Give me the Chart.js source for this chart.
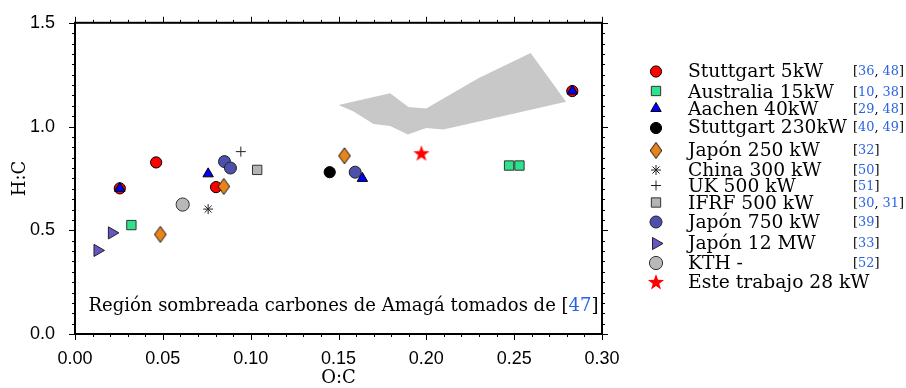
<!DOCTYPE html>
<html>
<head>
<meta charset="utf-8">
<script src="https://cdn.jsdelivr.net/npm/chart.js@4.4.1/dist/chart.umd.min.js"></script>
<style>
html,body{margin:0;padding:0;background:#fff;}
#wrap{width:906px;height:388px;}
</style>
</head>
<body>
<div id="wrap"><canvas id="c" width="906" height="388"></canvas></div>
<script>
// ---------------- DATA ----------------
const xTickLabels = ['0.00', '0.05', '0.10', '0.15', '0.20', '0.25', '0.30'];
const yTickLabels = ['0.0', '0.5', '1.0', '1.5'];

const seriesNames = ['Stuttgart 5kW', 'Australia 15kW', 'Aachen 40kW', 'Stuttgart 230kW',
  'Japón 250 kW', 'China 300 kW', 'UK 500 kW', 'IFRF 500 kW', 'Japón 750 kW',
  'Japón 12 MW', 'KTH -', 'Este trabajo 28 kW'];
const seriesRefs = [['36', '48'], ['10', '38'], ['29', '48'], ['40', '49'], ['32'], ['50'],
  ['51'], ['30', '31'], ['39'], ['33'], ['52'], []];

const stuttgart5_OC = [0.0255, 0.0462, 0.0803, 0.2831];
const stuttgart5_HC = [0.702, 0.827, 0.708, 1.171];
const australia15_OC = [0.0321, 0.2471, 0.2530];
const australia15_HC = [0.525, 0.812, 0.812];
const aachen40_OC = [0.0255, 0.0758, 0.1636, 0.2831];
const aachen40_HC = [0.702, 0.772, 0.750, 1.171];
const stuttgart230_OC = [0.1450];
const stuttgart230_HC = [0.780];
const japon250_OC = [0.0486, 0.0847, 0.1534];
const japon250_HC = [0.480, 0.711, 0.859];
const china300_OC = [0.0758];
const china300_HC = [0.602];
const uk500_OC = [0.0944];
const uk500_HC = [0.879];
const ifrf500_OC = [0.1037];
const ifrf500_HC = [0.791];
const japon750_OC = [0.0851, 0.0885, 0.1595];
const japon750_HC = [0.831, 0.800, 0.780];
const japon12_OC = [0.0128, 0.0210];
const japon12_HC = [0.403, 0.4875];
const kth_OC = [0.0613];
const kth_HC = [0.624];
const esteTrabajo_OC = [0.1972];
const esteTrabajo_HC = [0.871];

// Shaded region: Amagá coals (polygon outline)
const amaga_OC = [0.1500, 0.1794, 0.1898, 0.1999, 0.2296, 0.2594, 0.2795,
  0.2382, 0.2097, 0.1999, 0.1895, 0.1794, 0.1699, 0.1586, 0.1500];
const amaga_HC = [1.1035, 1.160, 1.094, 1.087, 1.233, 1.354, 1.119,
  1.040, 0.986, 0.993, 0.962, 1.003, 1.012, 1.072, 1.1035];

const annotationText = 'Región sombreada carbones de Amagá tomados de ';
const annotationRef = '47';

const seriesOC = [stuttgart5_OC, australia15_OC, aachen40_OC, stuttgart230_OC, japon250_OC,
  china300_OC, uk500_OC, ifrf500_OC, japon750_OC, japon12_OC, kth_OC, esteTrabajo_OC];
const seriesHC = [stuttgart5_HC, australia15_HC, aachen40_HC, stuttgart230_HC, japon250_HC,
  china300_HC, uk500_HC, ifrf500_HC, japon750_HC, japon12_HC, kth_HC, esteTrabajo_HC];

// ---------------- STYLES ----------------
function makeDiamond() {
  const c = document.createElement('canvas');
  c.width = 14; c.height = 18;
  const g = c.getContext('2d');
  g.beginPath();
  g.moveTo(7, 1.0); g.lineTo(12.8, 9); g.lineTo(7, 17); g.lineTo(1.2, 9);
  g.closePath();
  g.fillStyle = '#e8841c'; g.fill();
  g.lineWidth = 1; g.strokeStyle = '#111'; g.stroke();
  return c;
}
function makeStar() {
  const c = document.createElement('canvas');
  c.width = 20; c.height = 20;
  const g = c.getContext('2d');
  g.beginPath();
  for (let i = 0; i < 10; i++) {
    const r = (i % 2) ? 3.4 : 8.5;
    const a = -Math.PI / 2 + i * Math.PI / 5;
    g.lineTo(10 + r * Math.cos(a), 10.6 + r * Math.sin(a));
  }
  g.closePath();
  g.fillStyle = '#ff0000'; g.fill();
  return c;
}
const diamondImg = makeDiamond();
const starImg = makeStar();

const styles = [
  {ps: 'circle', r: 5.6, bg: '#ff0000', bc: '#000', bw: 1},
  {ps: 'rect', r: 6.6, bg: '#2ce38c', bc: '#333', bw: 1},
  {ps: 'triangle', r: 6, bg: '#0000ff', bc: '#000', bw: 1},
  {ps: 'circle', r: 5.6, bg: '#000', bc: '#000', bw: 1},
  {ps: diamondImg, r: 7, bg: '#e8841c', bc: '#000', bw: 1},
  {ps: 'star', r: 5, bg: '#222', bc: '#222', bw: 1},
  {ps: 'cross', r: 5, bg: '#222', bc: '#222', bw: 1},
  {ps: 'rect', r: 6.6, bg: '#b4b4b4', bc: '#333', bw: 1},
  {ps: 'circle', r: 6, bg: '#4c50ac', bc: '#222', bw: 1},
  {ps: 'triangle', r: 7, rot: 90, bg: '#6655c4', bc: '#222', bw: 1},
  {ps: 'circle', r: 6.6, bg: '#b8b8b8', bc: '#333', bw: 1},
  {ps: starImg, r: 8, bg: '#ff0000', bc: '#ff0000', bw: 0}
];
// bottom-to-top drawing sequence
const drawSequence = [0, 1, 3, 4, 5, 6, 7, 8, 9, 10, 11, 2];

const datasets = [];
datasets.push({
  label: 'Amagá',
  data: amaga_OC.map((x, i) => ({x: x, y: amaga_HC[i]})),
  showLine: true,
  fill: 'shape',
  tension: 0,
  backgroundColor: '#c8c8c8',
  borderColor: 'rgba(0,0,0,0)',
  borderWidth: 0,
  pointRadius: 0,
  order: 1000
});
seriesNames.forEach((name, i) => {
  const st = styles[i];
  datasets.push({
    label: name,
    data: seriesOC[i].map((x, j) => ({x: x, y: seriesHC[i][j]})),
    pointStyle: st.ps,
    pointRadius: st.r,
    pointRotation: st.rot || 0,
    backgroundColor: st.bg,
    borderColor: st.bc,
    borderWidth: st.bw,
    order: 100 - drawSequence.indexOf(i)
  });
});

// ---------------- PLUGINS ----------------
const SERIF = '"DejaVu Serif", "Liberation Serif", serif';
const SANS = '"Liberation Sans", Arial, sans-serif';
const REF_BLUE = '#2a64e6';

function fitFont(ctx, text, target, base) {
  ctx.font = base + 'px ' + SERIF;
  return base * target / ctx.measureText(text).width;
}

const framePlugin = {
  id: 'frameTicks',
  afterDraw(chart) {
    const {ctx, chartArea: a} = chart;
    const xs = chart.scales.x, ys = chart.scales.y;
    ctx.save();
    ctx.strokeStyle = '#000';
    ctx.lineWidth = 1;
    ctx.beginPath();
    const nx = Math.round((xs.max - xs.min) / 0.01);
    for (let i = 0; i <= nx; i++) {
      const px = Math.round(xs.getPixelForValue(xs.min + i * 0.01)) + 0.5;
      const len = (i % 5 === 0) ? 6 : 3;
      ctx.moveTo(px, a.bottom); ctx.lineTo(px, a.bottom + len);
      ctx.moveTo(px, a.top); ctx.lineTo(px, a.top - len);
    }
    const ny = Math.round((ys.max - ys.min) / 0.05);
    for (let i = 0; i <= ny; i++) {
      const py = Math.round(ys.getPixelForValue(ys.min + i * 0.05)) + 0.5;
      const len = (i % 10 === 0) ? 6 : 3;
      ctx.moveTo(a.left, py); ctx.lineTo(a.left - len, py);
      ctx.moveTo(a.right, py); ctx.lineTo(a.right + len, py);
    }
    ctx.stroke();
    ctx.lineWidth = 2;
    ctx.strokeRect(a.left, a.top, a.right - a.left, a.bottom - a.top);

    // annotation text
    const full = annotationText + '[' + annotationRef + ']';
    const fs = fitFont(ctx, full, 510, 18);
    ctx.font = fs + 'px ' + SERIF;
    ctx.textBaseline = 'alphabetic';
    ctx.textAlign = 'left';
    let tx = a.left + 13.5;
    const ty = a.bottom - 23;
    ctx.fillStyle = '#000';
    ctx.fillText(annotationText + '[', tx, ty);
    tx += ctx.measureText(annotationText + '[').width;
    ctx.fillStyle = REF_BLUE;
    ctx.fillText(annotationRef, tx, ty);
    tx += ctx.measureText(annotationRef).width;
    ctx.fillStyle = '#000';
    ctx.fillText(']', tx, ty);
    ctx.restore();
  }
};

// legend layout (pixels)
const legendMarkerX = 656;
const legendTextX = 688;
const legendRefX = 853;
const legendRowY = [70, 91, 108, 126, 149, 169, 185, 202, 221, 242, 262, 281];
const legendMarkerDY = [1.5, 0, 0.5, 2, 1.5, 1, 0.5, 0.5, 1, 1.5, 1, 1];

const legendPlugin = {
  id: 'customLegend',
  afterDraw(chart) {
    const ctx = chart.ctx;
    ctx.save();
    const fs = fitFont(ctx, 'Stuttgart 230kW', 159, 19);
    const rfs = fitFont(ctx, '[36, 48]', 51, 13);
    const drawPt = Chart.helpers && Chart.helpers.drawPoint;
    seriesNames.forEach((name, i) => {
      const st = styles[i];
      const my = legendRowY[i] + legendMarkerDY[i];
      ctx.save();
      ctx.fillStyle = st.bg;
      ctx.strokeStyle = st.bc;
      ctx.lineWidth = st.bw;
      if (drawPt) {
        drawPt(ctx, {pointStyle: st.ps, radius: st.r, rotation: st.rot || 0, borderWidth: st.bw},
          legendMarkerX, my);
      }
      ctx.restore();
      ctx.fillStyle = '#000';
      ctx.textAlign = 'left';
      ctx.textBaseline = 'alphabetic';
      ctx.font = fs + 'px ' + SERIF;
      ctx.fillText(name, legendTextX, legendRowY[i] + 7);
      const refs = seriesRefs[i];
      if (refs.length) {
        ctx.font = rfs + 'px ' + SERIF;
        let x = legendRefX;
        const y = legendRowY[i] + 5;
        const parts = [['[', '#000']];
        refs.forEach((r, k) => {
          if (k > 0) parts.push([', ', '#000']);
          parts.push([r, REF_BLUE]);
        });
        parts.push([']', '#000']);
        parts.forEach(([t, col]) => {
          ctx.fillStyle = col;
          ctx.fillText(t, x, y);
          x += ctx.measureText(t).width;
        });
      }
    });
    ctx.restore();
  }
};

// ---------------- CHART ----------------
new Chart(document.getElementById('c'), {
  type: 'scatter',
  data: {datasets: datasets},
  options: {
    responsive: false,
    animation: false,
    events: [],
    layout: {padding: {left: 0, top: 15, right: 304, bottom: 0}},
    plugins: {legend: {display: false}, tooltip: {enabled: false}},
    scales: {
      x: {
        type: 'linear', min: 0, max: 0.3,
        grid: {display: false},
        border: {display: false},
        ticks: {
          stepSize: 0.05, autoSkip: false, maxRotation: 0, padding: 6,
          color: '#000', font: {family: SANS, size: 18},
          callback: (v) => xTickLabels[Math.round(v / 0.05)]
        },
        title: {display: true, text: 'O:C', color: '#000',
          font: {family: SERIF, size: 18}, padding: {top: 0, bottom: -1}},
        afterFit: (s) => { s.height = 54; }
      },
      y: {
        type: 'linear', min: 0, max: 1.5,
        grid: {display: false},
        border: {display: false},
        ticks: {
          stepSize: 0.5, padding: 12,
          color: '#000', font: {family: SANS, size: 18},
          callback: (v) => yTickLabels[Math.round(v / 0.5)]
        },
        title: {display: true, text: 'H:C', color: '#000',
          font: {family: SERIF, size: 18}, padding: {top: 10, bottom: 0}},
        afterFit: (s) => { s.width = 75; }
      }
    }
  },
  plugins: [framePlugin, legendPlugin]
});
</script>
</body>
</html>
